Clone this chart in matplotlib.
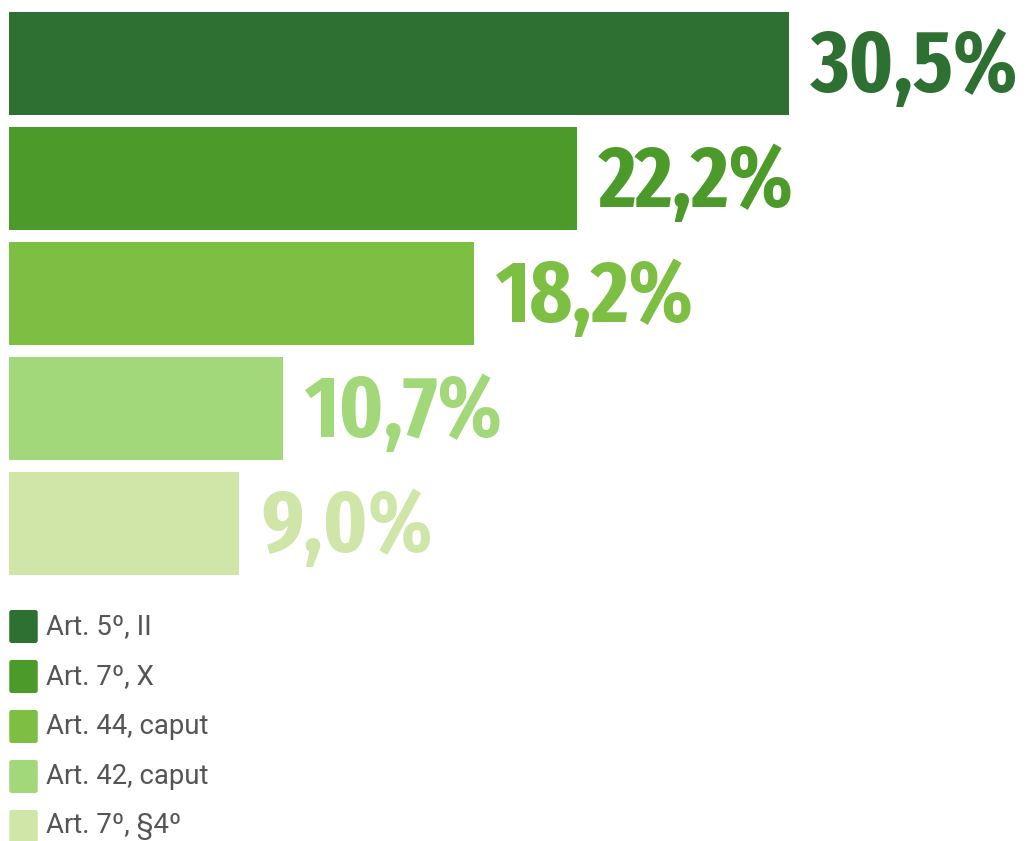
import matplotlib
matplotlib.use("Agg")
import matplotlib.pyplot as plt
from matplotlib.patches import FancyBboxPatch
from matplotlib import font_manager as fm

categories = ["Art. 5º, II", "Art. 7º, X", "Art. 44, caput", "Art. 42, caput", "Art. 7º, §4º"]
values = [30.5, 22.2, 18.2, 10.7, 9.0]
labels = ["30,5%", "22,2%", "18,2%", "10,7%", "9,0%"]
colors = ["#2E6F32", "#4B9A2A", "#7CBF43", "#A2D879", "#D0E5A8"]

W, H = 1028, 841
fig = plt.figure(figsize=(W / 100, H / 100), dpi=100)
ax = fig.add_axes([0, 0, 1, 1])
ppu = 25.57  # pixels per percent
ax.set_xlim(-9 / ppu, (W - 9) / ppu)
ax.set_ylim(H, 0)
ax.axis("off")

# find a condensed bold font file, if any
cands = []
for f in fm.fontManager.ttflist:
    nm = f.name.lower()
    st = str(f.stretch).lower()
    is_cond = ("condensed" in nm or "narrow" in nm or "compressed" in nm or
               "condensed" in st or "narrow" in st or
               (st.isdigit() and int(st) < 100))
    wt = f.weight if isinstance(f.weight, int) else {"bold": 700, "heavy": 800, "black": 900,
                                                       "semibold": 600, "demibold": 600}.get(str(f.weight).lower(), 400)
    if is_cond and wt >= 600:
        rank = 0 if "extra" in (nm + st) or "ultra" in (nm + st) else 1
        cands.append((rank, abs(wt - 700), f.fname))
cands.sort()
if cands:
    lab_fp = fm.FontProperties(fname=cands[0][2])
else:
    lab_fp = fm.FontProperties(family="DejaVu Sans", weight="bold", stretch="condensed")

ypos = [63.5 + 115 * i for i in range(len(values))]
ax.barh(ypos, values, height=103, color=colors, left=0)

gap = 22 / ppu
size = 86
texts = []
for y, v, lab, c in zip(ypos, values, labels, colors):
    t = ax.text(v + gap, y + 4, lab, color=c, fontproperties=lab_fp, fontsize=size,
                va="center", ha="left")
    texts.append(t)
fig.canvas.draw()
r = fig.canvas.get_renderer()
bb = texts[0].get_window_extent(r)
limit = W - 10
if bb.x1 > limit:
    newsize = size * (limit - bb.x0) / (bb.x1 - bb.x0)
    for t in texts:
        t.set_fontsize(newsize)

# legend
for i, (cat, c) in enumerate(zip(categories, colors)):
    top = 610 + 50 * i
    x0 = 0
    p = FancyBboxPatch((x0 + 0.05, top + 1), 29 / ppu - 0.1, 31,
                       boxstyle="round,pad=0.04,rounding_size=0.1",
                       mutation_aspect=ppu, facecolor=c, edgecolor="none", clip_on=False)
    ax.add_patch(p)
    ax.text(x0 + 37 / ppu, top + 17, cat, fontsize=19.8, color="#555555",
            family=["Roboto", "DejaVu Sans"], va="center", ha="left")

fig.savefig("out.png", dpi=100)
